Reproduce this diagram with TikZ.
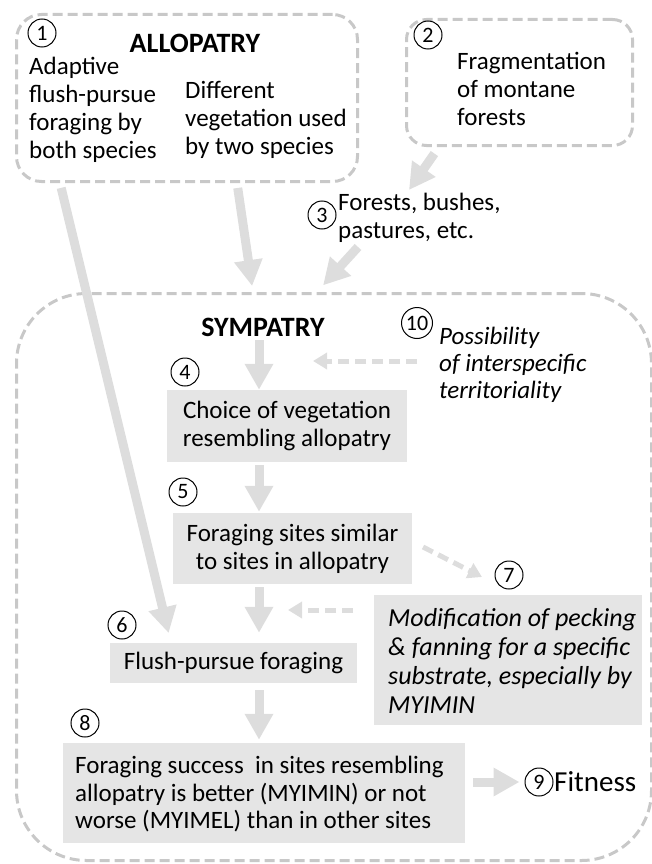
\documentclass[tikz,border=0pt]{standalone}
\usepackage{fontspec}
\setmainfont{Carlito}
\usetikzlibrary{arrows.meta}
\definecolor{arrowgray}{RGB}{221,221,221}
\definecolor{boxgray}{RGB}{229,229,229}
\definecolor{dashgray}{RGB}{200,200,200}
\begin{document}
\begin{tikzpicture}[x=1pt,y=-1pt,
  txt/.style={font=\fontsize{25}{28}\selectfont, inner sep=0pt},
  ttl/.style={font=\fontsize{28}{30}\selectfont\bfseries, inner sep=0pt},
  dbox/.style={draw=dashgray, line width=3pt, dash pattern=on 10pt off 5pt, rounded corners=25pt, inner sep=0pt},
  gbox/.style={fill=boxgray, inner sep=0pt, font=\fontsize{25}{28}\selectfont, align=center},
  num/.style={circle, draw=black, line width=1pt, minimum size=28pt, inner sep=0pt, font=\fontsize{22}{22}\selectfont},
  bigarrow/.style={draw=arrowgray, line width=9pt, -{Triangle[width=27pt,length=26pt]}},
  dasharrow/.style={draw=arrowgray, line width=5pt, dash pattern=on 11pt off 6pt, -{Triangle[width=16pt,length=14pt]}}
]
\useasboundingbox (0,0) rectangle (652,864);

% containers
\node[dbox, anchor=north west, minimum width=341pt, minimum height=167pt] (allo) at (15,13) {};
\node[dbox, rounded corners=20pt, anchor=north west, minimum width=226pt, minimum height=126pt] (frag) at (405,18) {};
\node[dbox, rounded corners=70pt, anchor=north west, minimum width=635pt, minimum height=567pt] (symp) at (15,292) {};

% allopatry texts
\node[ttl] (allot) at (195,43) {ALLOPATRY};
\node[txt, align=left, anchor=west] (adapt) at (29,109.5) {Adaptive\\flush-pursue\\foraging by\\both species};
\node[txt, align=left, anchor=west] (diff) at (185,120) {Different\\vegetation used\\by two species};
\node[txt, align=left, anchor=west] (fragt) at (457,88.5) {Fragmentation\\of montane\\forests};
\node[txt, align=left, anchor=west] (forest) at (338,217.5) {Forests, bushes,\\pastures, etc.};

% sympatry texts
\node[ttl] (symt) at (263,327) {SYMPATRY};
\node[txt, align=left, anchor=west, font=\fontsize{25}{27}\selectfont\itshape] (poss) at (439,365) {Possibility\\of interspecific\\territoriality};

\node[gbox, minimum width=240pt, minimum height=72pt] (b4) at (287,426) {Choice of vegetation\\resembling allopatry};
\node[gbox, minimum width=239pt, minimum height=71pt] (b5) at (292.5,548.5) {Foraging sites similar\\to sites in allopatry};
\node[gbox, minimum width=247pt, minimum height=40pt] (b6) at (233.5,663) {Flush-pursue foraging};
\node[gbox, minimum width=268pt, minimum height=130pt] (b7) at (508,660) {};
\node[txt, align=left, anchor=west, font=\fontsize{26}{29.3}\selectfont\itshape] (b7t) at (388,661) {Modification of pecking\\\& fanning for a specific\\substrate, especially by\\MYIMIN};
\node[gbox, minimum width=402pt, minimum height=100pt] (b8) at (264,793) {};
\node[txt, align=left, anchor=west, font=\fontsize{25}{27.5}\selectfont] (b8t) at (75,794.5) {Foraging success\ \ in sites resembling\\allopatry is better (MYIMIN) or not\\worse (MYIMEL) than in other sites};
\node[txt, anchor=west, font=\fontsize{29}{30}\selectfont] (fit) at (554,782) {Fitness};

% numbers
\node[num] (c1) at (42,33) {1};
\node[num] (c2) at (428,35) {2};
\node[num] (c3) at (322,215) {3};
\node[num, minimum size=31pt] (c10) at (417,323) {10};
\node[num] (c4) at (185,372) {4};
\node[num] (c5) at (183,492) {5};
\node[num] (c6) at (122,625) {6};
\node[num] (c7) at (509,575) {7};
\node[num] (c8) at (85,723) {8};
\node[num] (c9) at (539,782) {9};

% helper coordinates
\coordinate (col) at (259,0);
\coordinate (k1) at (60,0);
\coordinate (k2) at (171,0);
\coordinate (k3) at (237,0);
\coordinate (k4) at (253,0);
\coordinate (k6) at (317,0);
\coordinate (a3s) at (358,247);
\coordinate (k7) at (439,0);
\coordinate (a4e) at (409,190);
\coordinate (d1s) at (417,361);
\coordinate (d1e) at (313,361);
\coordinate (d2s) at (423,547);
\coordinate (d2e) at (482,577);
\coordinate (d3s) at (353,610);
\coordinate (d3e) at (288,610);

% solid arrows
\draw[bigarrow, shorten <=5pt, shorten >=10pt] (allo.south -| k1) -- (b6.north -| k2);
\draw[bigarrow, shorten <=5pt, shorten >=6pt] (allo.south -| k3) -- (symp.north -| k4);
\draw[bigarrow, shorten >=9pt] (a3s) -- (symp.north -| k6);
\draw[bigarrow, shorten <=8pt] (frag.south -| k7) -- (a4e);
\draw[bigarrow, shorten <=4pt] (symt.south -| col) -- (b4.north -| col);
\draw[bigarrow, shorten <=3pt, shorten >=1pt] (b4.south -| col) -- (b5.north -| col);
\draw[bigarrow, shorten <=3pt, shorten >=10pt] (b5.south -| col) -- (b6.north -| col);
\draw[bigarrow, shorten <=7pt, shorten >=3pt] (b6.south -| col) -- (b8.north -| col);
\draw[bigarrow, shorten <=8pt, shorten >=5pt] (b8.east |- c9) -- (c9.west);

% dashed arrows
\draw[dasharrow] (d1s) -- (d1e);
\draw[dasharrow] (d2s) -- (d2e);
\draw[dasharrow] (d3s) -- (d3e);
\end{tikzpicture}
\end{document}
